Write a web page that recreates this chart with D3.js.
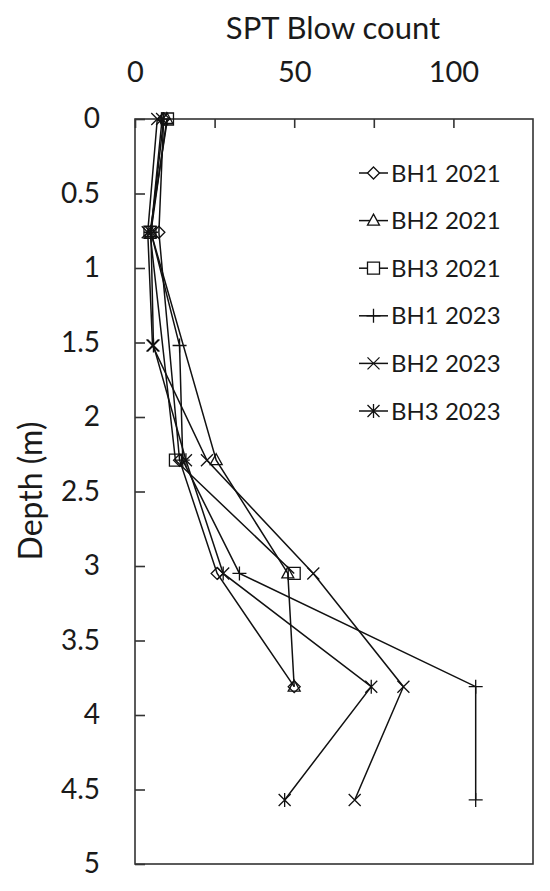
<!DOCTYPE html>
<html>
<head>
<meta charset="utf-8">
<script src="https://cdn.jsdelivr.net/npm/d3@7"></script>
<style>
  body { margin: 0; background: #fff; }
  text { font-family: Lato, "Noto Sans", sans-serif; fill: #1a1a1a; }
</style>
</head>
<body>
<svg width="550" height="891"></svg>
<script>
// depths (m) for each SPT test
var depths2021 = [0, 0.76, 2.29, 3.05, 3.81];
var depths2023 = [0, 0.76, 1.52, 2.29, 3.05, 3.81, 4.57];

// blow counts
var bh1_2021 = [9, 7.5, 14, 25.8, 50];
var bh2_2021 = [10, 5, 25.5, 48, 50];
var bh3_2021 = [10.2, 4.7, 12.7, 50];          // stops at 3.05 m
var bh1_2023 = [9, 5, 14, 15, 32.8, 107, 107];
var bh2_2023 = [7, 4, 5.5, 22.6, 56, 84.3, 69];
var bh3_2023 = [8.5, 5, 5.8, 16, 27.7, 74.2, 47];

var seriesNames = ["BH1 2021", "BH2 2021", "BH3 2021", "BH1 2023", "BH2 2023", "BH3 2023"];
var markerTypes = ["diamond", "triangle", "square", "plus", "times", "star"];

var xTicks = [0, 25, 50, 75, 100];
var xLabels = [0, 50, 100];
var yTicks = [0, 0.5, 1, 1.5, 2, 2.5, 3, 3.5, 4, 4.5, 5];

var series = [
  {name: seriesNames[0], marker: markerTypes[0], d: depths2021, v: bh1_2021},
  {name: seriesNames[1], marker: markerTypes[1], d: depths2021, v: bh2_2021},
  {name: seriesNames[2], marker: markerTypes[2], d: depths2021, v: bh3_2021},
  {name: seriesNames[3], marker: markerTypes[3], d: depths2023, v: bh1_2023},
  {name: seriesNames[4], marker: markerTypes[4], d: depths2023, v: bh2_2023},
  {name: seriesNames[5], marker: markerTypes[5], d: depths2023, v: bh3_2023}
];
series.forEach(function(s) {
  s.pts = s.v.map(function(v, i) { return {x: v, y: s.d[i]}; });
});

var svg = d3.select("svg"),
    pLeft = 135, pRight = 533, pTop = 119, pBottom = 864;

var x = d3.scaleLinear().domain([0, 125]).range([pLeft, pRight]);
var y = d3.scaleLinear().domain([0, 5]).range([pTop, pBottom]);

// marker shapes, excel style
function markerPath(type) {
  var r = 6;
  switch (type) {
    case "diamond": return "M0," + (-r) + "L" + r + ",0L0," + r + "L" + (-r) + ",0Z";
    case "triangle": return "M0,-6.5L6,4.5L-6,4.5Z";
    case "square": return "M-6,-6H6V6H-6Z";
    case "plus": return "M-7,0H7M0,-7V7";
    case "times": return "M-6,-6L6,6M-6,6L6,-6";
    case "star": return "M-6,-6L6,6M-6,6L6,-6M0,-7V7";
  }
}

// frame
svg.append("rect")
  .attr("x", pLeft).attr("y", pTop)
  .attr("width", pRight - pLeft).attr("height", pBottom - pTop)
  .attr("fill", "none").attr("stroke", "#333").attr("stroke-width", 1.6);

// top axis
var xAxis = svg.append("g")
  .attr("transform", "translate(0," + pTop + ")")
  .call(d3.axisTop(x).tickValues(xTicks)
    .tickSizeInner(-9).tickSizeOuter(0).tickPadding(37)
    .tickFormat(function(d) { return xLabels.indexOf(d) >= 0 ? d : ""; }));
xAxis.select(".domain").remove();
xAxis.selectAll("line").attr("stroke", "#333").attr("stroke-width", 1.6);
xAxis.selectAll("text").style("font-size", "29px").attr("fill", "#1a1a1a");

// left axis
var yAxis = svg.append("g")
  .attr("transform", "translate(" + pLeft + ",0)")
  .call(d3.axisLeft(y).tickValues(yTicks)
    .tickSizeInner(-10).tickSizeOuter(0).tickPadding(35)
    .tickFormat(d3.format("")));
yAxis.select(".domain").remove();
yAxis.selectAll("line").attr("stroke", "#333").attr("stroke-width", 1.6);
yAxis.selectAll("text").style("font-size", "28px").attr("fill", "#1a1a1a");

// titles
svg.append("text")
  .attr("x", 333).attr("y", 39)
  .attr("text-anchor", "middle")
  .style("font-size", "31px")
  .text("SPT Blow count");

svg.append("text")
  .attr("transform", "translate(42,491) rotate(-90)")
  .attr("text-anchor", "middle")
  .style("font-size", "32px")
  .text("Depth (m)");

// lines + markers
var line = d3.line().x(function(d) { return x(d.x); }).y(function(d) { return y(d.y); });

var g = svg.append("g");
series.forEach(function(s) {
  g.append("path")
    .datum(s.pts)
    .attr("d", line)
    .attr("fill", "none")
    .attr("stroke", "#111")
    .attr("stroke-width", 1.5);
});
series.forEach(function(s) {
  g.selectAll(null)
    .data(s.pts)
    .enter().append("path")
    .attr("transform", function(d) { return "translate(" + x(d.x) + "," + y(d.y) + ")"; })
    .attr("d", markerPath(s.marker))
    .attr("fill", "none")
    .attr("stroke", "#111")
    .attr("stroke-width", 1.3);
});

// legend
var legend = svg.append("g").attr("transform", "translate(359,173)");
var rows = legend.selectAll("g")
  .data(series)
  .enter().append("g")
  .attr("transform", function(d, i) { return "translate(0," + (i * 47.6) + ")"; });
rows.append("line")
  .attr("x1", 0).attr("x2", 29)
  .attr("stroke", "#111").attr("stroke-width", 1.5);
rows.append("path")
  .attr("transform", "translate(14.5,0)")
  .attr("d", function(d) { return markerPath(d.marker); })
  .attr("fill", "#fff")
  .attr("stroke", "#111").attr("stroke-width", 1.3);
rows.append("text")
  .attr("x", 32).attr("dy", "0.36em")
  .style("font-size", "24px")
  .text(function(d) { return d.name; });
</script>
</body>
</html>
